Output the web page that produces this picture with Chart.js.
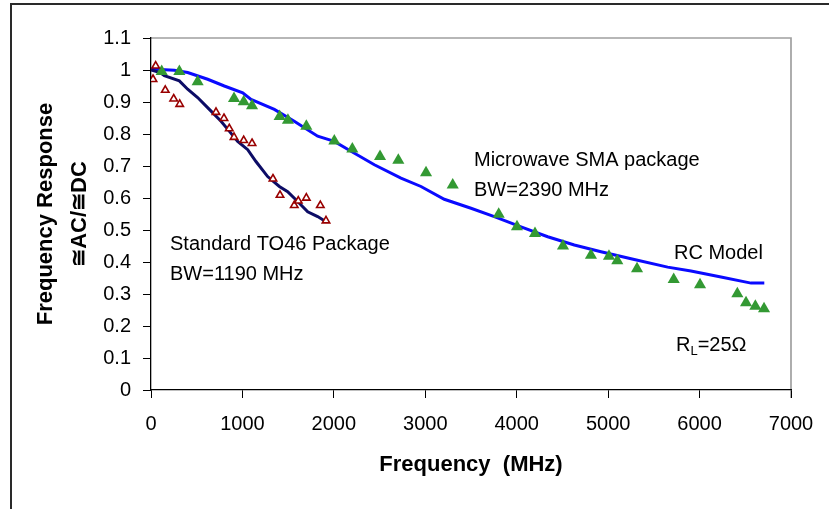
<!DOCTYPE html>
<html>
<head>
<meta charset="utf-8">
<script src="https://cdn.jsdelivr.net/npm/chart.js@4/dist/chart.umd.min.js"></script>
<style>
html,body{margin:0;padding:0;background:#fff;}
#wrap{width:829px;height:509px;position:relative;}
</style>
</head>
<body>
<div id="wrap"><canvas id="c" width="829" height="509"></canvas></div>
<script>
// ---- data ----
const xTicks = [0, 1000, 2000, 3000, 4000, 5000, 6000, 7000];
const yTicks = [0, 0.1, 0.2, 0.3, 0.4, 0.5, 0.6, 0.7, 0.8, 0.9, 1, 1.1];

// Standard TO46 package, measured
const to46Freq = [22, 51, 156, 248, 314, 711, 798, 856, 908, 1014, 1105, 1334, 1411, 1567, 1611, 1699, 1852, 1914];
const to46Resp = [0.971, 1.013, 0.937, 0.910, 0.893, 0.868, 0.849, 0.817, 0.790, 0.780, 0.771, 0.660, 0.609, 0.577, 0.591, 0.600, 0.577, 0.529];

// Standard TO46 package, RC model
const to46ModelFreq = [0, 100, 146, 310, 401, 510, 638, 766, 856, 948, 1058, 1148, 1276, 1404, 1495, 1604, 1714, 1823, 1914];
const to46ModelResp = [1.0, 0.992, 0.982, 0.966, 0.94, 0.914, 0.877, 0.840, 0.809, 0.777, 0.751, 0.714, 0.667, 0.636, 0.620, 0.589, 0.557, 0.542, 0.526];

// Microwave SMA package, measured
const smaFreq = [117, 310, 510, 908, 1014, 1105, 1407, 1498, 1699, 2005, 2202, 2505, 2705, 3008, 3300, 3803, 4003, 4200, 4506, 4812, 5009, 5100, 5316, 5717, 6005, 6413, 6508, 6610, 6705];
const smaResp = [0.995, 0.995, 0.963, 0.911, 0.901, 0.888, 0.855, 0.843, 0.824, 0.778, 0.753, 0.730, 0.718, 0.679, 0.641, 0.549, 0.510, 0.489, 0.450, 0.421, 0.418, 0.404, 0.379, 0.345, 0.329, 0.301, 0.273, 0.262, 0.254];

// Microwave SMA package, RC model
const smaModelFreq = [0, 255, 401, 620, 802, 1003, 1094, 1349, 1567, 1823, 2005, 2188, 2443, 2734, 2953, 3208, 3500, 3755, 4047, 4339, 4630, 4922, 5286, 5651, 5906, 6234, 6563, 6708];
const smaModelResp = [1.003, 0.999, 0.992, 0.971, 0.950, 0.929, 0.908, 0.877, 0.840, 0.793, 0.777, 0.746, 0.704, 0.662, 0.636, 0.596, 0.568, 0.542, 0.510, 0.479, 0.453, 0.432, 0.408, 0.384, 0.372, 0.353, 0.334, 0.334];

const pts = (xs, ys) => xs.map((x, i) => ({x: x, y: ys[i]}));

const FONT = '"Liberation Sans", Arial, sans-serif';

const decor = {
  id: 'decor',
  beforeDraw(chart) {
    const ctx = chart.ctx;
    ctx.save();
    ctx.fillStyle = '#fff';
    ctx.fillRect(0, 0, chart.width, chart.height);
    ctx.strokeStyle = '#2a2a2a';
    ctx.lineWidth = 2;
    ctx.strokeRect(11, 4, 1000, 1000);
    const a = chart.chartArea;
    ctx.strokeStyle = '#a0a0a0';
    ctx.lineWidth = 1.7;
    ctx.beginPath();
    ctx.moveTo(a.left, a.top);
    ctx.lineTo(a.right, a.top);
    ctx.lineTo(a.right, a.bottom + 8);
    ctx.stroke();
    ctx.restore();
  },
  afterDraw(chart) {
    const ctx = chart.ctx;
    ctx.save();
    ctx.fillStyle = '#000';
    ctx.textBaseline = 'middle';
    ctx.textAlign = 'left';
    ctx.font = '20px ' + FONT;
    ctx.fillText('Microwave SMA package', 474, 160);
    ctx.fillText('BW=2390 MHz', 474, 190);
    ctx.fillText('Standard TO46 Package', 170, 244);
    ctx.fillText('BW=1190 MHz', 170, 274);
    ctx.fillText('RC Model', 674, 253);
    ctx.fillText('R', 676, 345);
    let w = ctx.measureText('R').width;
    ctx.font = '13px ' + FONT;
    ctx.fillText('L', 676 + w, 351);
    const w2 = ctx.measureText('L').width;
    ctx.font = '20px ' + FONT;
    ctx.fillText('=25\u03A9', 676 + w + w2, 345);
    ctx.restore();
  }
};

new Chart(document.getElementById('c'), {
  type: 'scatter',
  data: {
    datasets: [
      {
        label: 'TO46 measured',
        data: pts(to46Freq, to46Resp),
        pointStyle: 'triangle',
        pointRadius: 4.3,
        pointBorderWidth: 1.6,
        pointBorderColor: '#990000',
        pointBackgroundColor: '#ffffff',
        showLine: false
      },
      {
        label: 'SMA measured',
        data: pts(smaFreq, smaResp),
        pointStyle: 'triangle',
        pointRadius: 7,
        pointBorderWidth: 0,
        pointBorderColor: '#339933',
        pointBackgroundColor: '#339933',
        showLine: false
      },
      {
        label: 'TO46 model',
        data: pts(to46ModelFreq, to46ModelResp),
        showLine: true,
        borderColor: '#0c0c66',
        borderWidth: 3,
        pointRadius: 0,
        tension: 0
      },
      {
        label: 'SMA model',
        data: pts(smaModelFreq, smaModelResp),
        showLine: true,
        borderColor: '#0a0aff',
        borderWidth: 3,
        pointRadius: 0,
        tension: 0
      }
    ]
  },
  options: {
    responsive: false,
    animation: false,
    devicePixelRatio: 1,
    layout: {padding: {left: 12, top: 38, right: 38, bottom: 24}},
    plugins: {legend: {display: false}, tooltip: {enabled: false}},
    scales: {
      x: {
        type: 'linear',
        min: 0, max: 7000,
        afterBuildTicks: (s) => { s.ticks = xTicks.map(v => ({value: v})); },
        afterFit: (s) => { s.height = 95; },
        grid: {drawOnChartArea: false, drawTicks: true, tickLength: 8, tickColor: '#000', tickWidth: 1},
        border: {display: true, color: '#000', width: 1.3},
        ticks: {color: '#000', padding: 14, font: {family: FONT, size: 20}, maxRotation: 0, callback: (v) => String(v)},
        title: {display: true, text: 'Frequency  (MHz)', color: '#000', font: {family: FONT, size: 22, weight: 'bold'}, padding: {top: 0, bottom: 7}}
      },
      y: {
        type: 'linear',
        min: 0, max: 1.1,
        afterBuildTicks: (s) => { s.ticks = yTicks.map(v => ({value: v})); },
        afterFit: (s) => { s.width = 139; },
        grid: {drawOnChartArea: false, drawTicks: true, tickLength: 8, tickColor: '#000', tickWidth: 1},
        border: {display: true, color: '#000', width: 1.3},
        ticks: {color: '#000', padding: 12, font: {family: FONT, size: 20}, callback: (v) => String(v)},
        title: {display: true, text: ['Frequency Response', '\u2245AC/\u2245DC'], color: '#000', font: {family: FONT, size: 22, weight: 'bold', lineHeight: '34px'}, padding: {top: 17, bottom: 0}}
      }
    }
  },
  plugins: [decor]
});
</script>
</body>
</html>
